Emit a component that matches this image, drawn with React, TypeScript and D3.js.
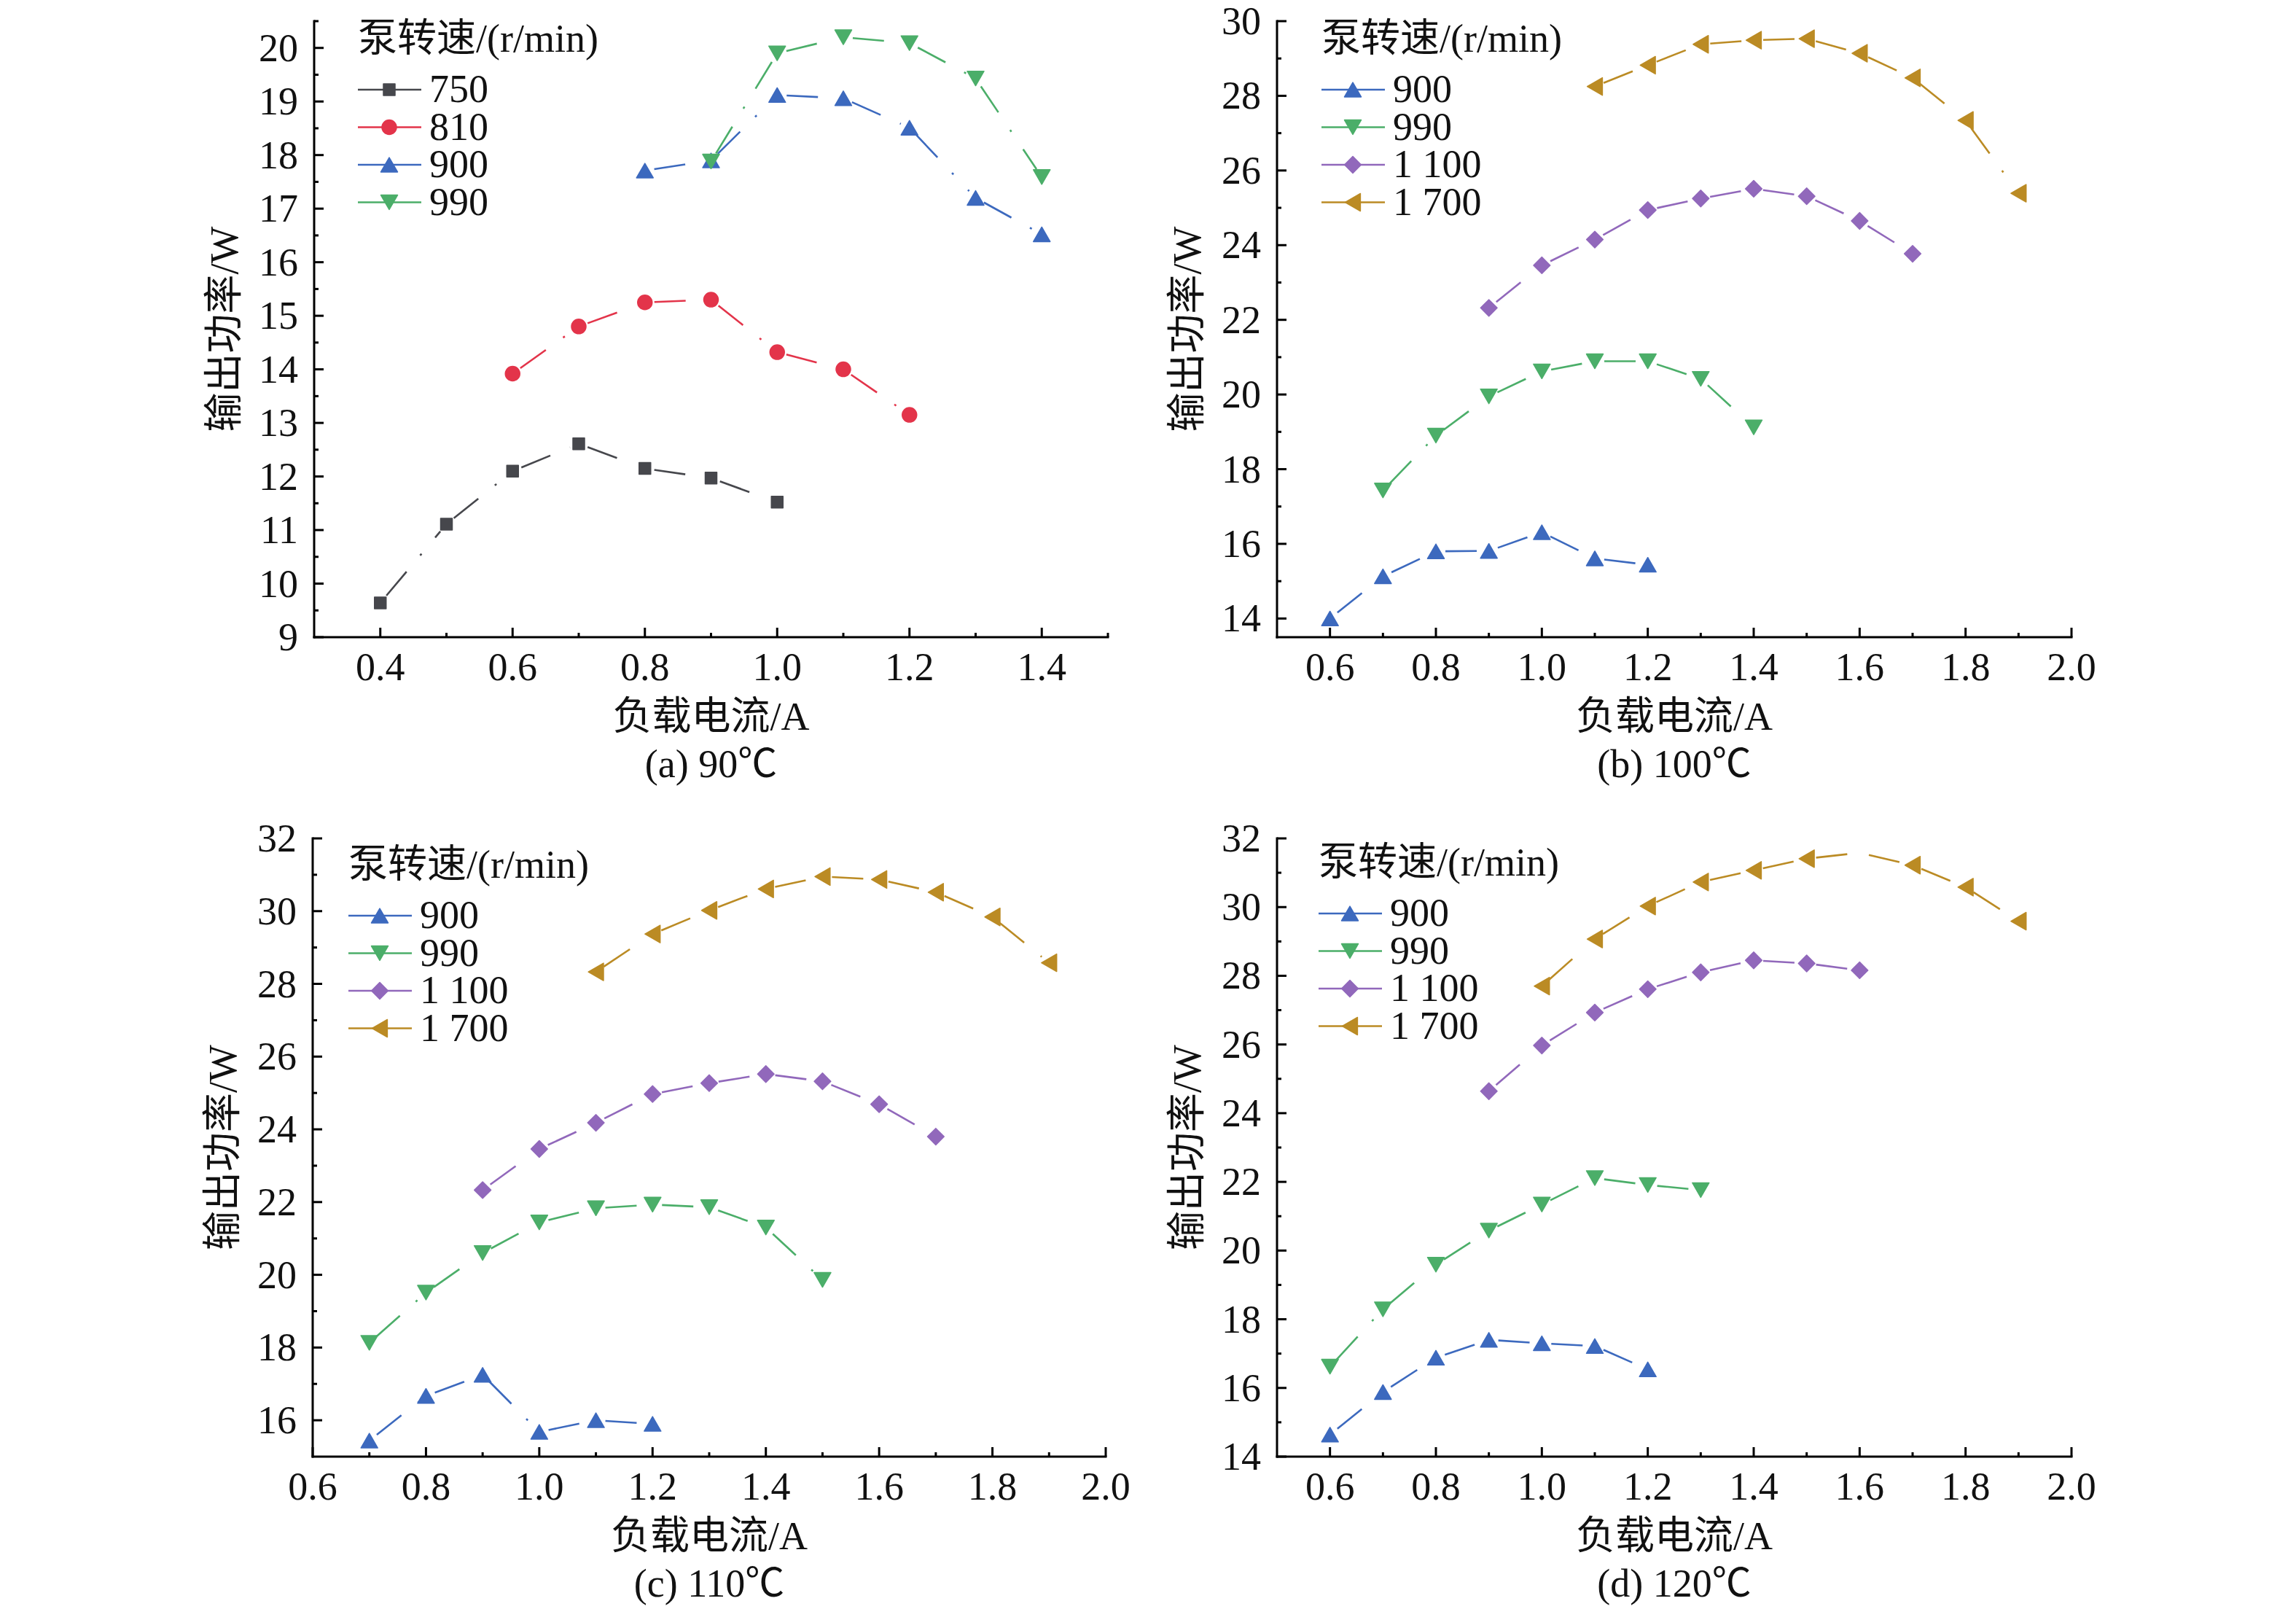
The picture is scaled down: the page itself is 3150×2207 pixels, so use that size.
import React, { useEffect } from "react";
import * as d3 from "d3";

const FONT = '"Liberation Serif", "Times New Roman", "Noto Sans CJK SC", serif';

// colours per pump speed
const C750 = "#46474c";
const C810 = "#e3344a";
const C900 = "#3c69be";
const C990 = "#4bae69";
const C1100 = "#9168bb";
const C1700 = "#bb8b24";

// ---- (a) 90℃ ----
const a750x = [0.4, 0.5, 0.6, 0.7, 0.8, 0.9, 1.0];
const a750y = [9.64, 11.11, 12.1, 12.61, 12.15, 11.97, 11.52];
const a810x = [0.6, 0.7, 0.8, 0.9, 1.0, 1.1, 1.2];
const a810y = [13.92, 14.8, 15.25, 15.3, 14.32, 14.0, 13.15];
const a900x = [0.8, 0.9, 1.0, 1.1, 1.2, 1.3, 1.4];
const a900y = [17.71, 17.9, 19.12, 19.06, 18.51, 17.2, 16.52];
const a990x = [0.9, 1.0, 1.1, 1.2, 1.3, 1.4];
const a990y = [17.88, 19.9, 20.2, 20.09, 19.43, 17.59];

// ---- (b) 100℃ ----
const b900x = [0.6, 0.7, 0.8, 0.9, 1.0, 1.1, 1.2];
const b900y = [14.0, 15.13, 15.8, 15.81, 16.31, 15.61, 15.44];
const b990x = [0.7, 0.8, 0.9, 1.0, 1.1, 1.2, 1.3, 1.4];
const b990y = [17.43, 18.9, 19.95, 20.62, 20.89, 20.89, 20.42, 19.12];
const b1100x = [0.9, 1.0, 1.1, 1.2, 1.3, 1.4, 1.5, 1.6, 1.7];
const b1100y = [22.32, 23.46, 24.15, 24.94, 25.25, 25.51, 25.31, 24.65, 23.77];
const b1700x = [1.1, 1.2, 1.3, 1.4, 1.5, 1.6, 1.7, 1.8, 1.9];
const b1700y = [28.25, 28.82, 29.38, 29.49, 29.53, 29.14, 28.48, 27.34, 25.39];

// ---- (c) 110℃ ----
const c900x = [0.7, 0.8, 0.9, 1.0, 1.1, 1.2];
const c900y = [15.44, 16.67, 17.25, 15.68, 16.0, 15.9];
const c990x = [0.7, 0.8, 0.9, 1.0, 1.1, 1.2, 1.3, 1.4, 1.5];
const c990y = [18.13, 19.51, 20.6, 21.44, 21.83, 21.93, 21.86, 21.3, 19.86];
const c1100x = [0.9, 1.0, 1.1, 1.2, 1.3, 1.4, 1.5, 1.6, 1.7];
const c1100y = [22.33, 23.46, 24.18, 24.97, 25.27, 25.52, 25.32, 24.69, 23.8];
const c1700x = [1.1, 1.2, 1.3, 1.4, 1.5, 1.6, 1.7, 1.8, 1.9];
const c1700y = [28.33, 29.37, 30.02, 30.61, 30.95, 30.87, 30.52, 29.84, 28.58];

// ---- (d) 120℃ ----
const d900x = [0.6, 0.7, 0.8, 0.9, 1.0, 1.1, 1.2];
const d900y = [14.64, 15.88, 16.88, 17.4, 17.3, 17.22, 16.54];
const d990x = [0.6, 0.7, 0.8, 0.9, 1.0, 1.1, 1.2, 1.3];
const d990y = [16.62, 18.29, 19.59, 20.58, 21.34, 22.11, 21.91, 21.76];
const d1100x = [0.9, 1.0, 1.1, 1.2, 1.3, 1.4, 1.5, 1.6];
const d1100y = [24.64, 25.97, 26.93, 27.61, 28.1, 28.45, 28.36, 28.16];
const d1700x = [1.0, 1.1, 1.2, 1.3, 1.4, 1.5, 1.6, 1.7, 1.8, 1.9];
const d1700y = [27.7, 29.07, 30.03, 30.73, 31.07, 31.41, 31.58, 31.22, 30.58, 29.59];

// tick values
const xMajorA = [0.4, 0.6, 0.8, 1.0, 1.2, 1.4];
const xMinorA = [0.5, 0.7, 0.9, 1.1, 1.3, 1.5];
const xMajorB = [0.6, 0.8, 1.0, 1.2, 1.4, 1.6, 1.8, 2.0];
const xMinorB = [0.7, 0.9, 1.1, 1.3, 1.5, 1.7, 1.9];
const yMajorA = [9, 10, 11, 12, 13, 14, 15, 16, 17, 18, 19, 20];
const yMinorA = [9.5, 10.5, 11.5, 12.5, 13.5, 14.5, 15.5, 16.5, 17.5, 18.5, 19.5, 20.5];
const yMajorB = [14, 16, 18, 20, 22, 24, 26, 28, 30];
const yMinorB = [15, 17, 19, 21, 23, 25, 27, 29];
const yMajorC = [16, 18, 20, 22, 24, 26, 28, 30, 32];
const yMinorC = [17, 19, 21, 23, 25, 27, 29, 31];
const yMajorD = [14, 16, 18, 20, 22, 24, 26, 28, 30, 32];
const yMinorD = [15, 17, 19, 21, 23, 25, 27, 29, 31];

const legendTitle = "泵转速/(r/min)";
const xTitle = "负载电流/A";
const yTitle = "输出功率/W";

type Shape = "square" | "circle" | "up" | "down" | "diamond" | "left";

interface Series {
  label: string;
  color: string;
  shape: Shape;
  xs: number[];
  ys: number[];
  hidden?: number[];
}

interface PanelCfg {
  caption: string;
  left: number;
  right: number;
  top: number;
  bottom: number;
  xDomain: [number, number];
  yDomain: [number, number];
  xMajor: number[];
  xMinor: number[];
  yMajor: number[];
  yMinor: number[];
  legendX: number;
  legendY: number;
  series: Series[];
}

const panels: PanelCfg[] = [
  {
    caption: "(a) 90℃", left: 431, right: 1520, top: 29, bottom: 874,
    xDomain: [0.3, 1.5], yDomain: [9, 20.5],
    xMajor: xMajorA, xMinor: xMinorA, yMajor: yMajorA, yMinor: yMinorA,
    legendX: 60, legendY: 42,
    series: [
      { label: "750", color: C750, shape: "square", xs: a750x, ys: a750y },
      { label: "810", color: C810, shape: "circle", xs: a810x, ys: a810y },
      { label: "900", color: C900, shape: "up", xs: a900x, ys: a900y },
      { label: "990", color: C990, shape: "down", xs: a990x, ys: a990y },
    ],
  },
  {
    caption: "(b) 100℃", left: 1752, right: 2842, top: 29, bottom: 874,
    xDomain: [0.5, 2.0], yDomain: [13.5, 30],
    xMajor: xMajorB, xMinor: xMinorB, yMajor: yMajorB, yMinor: yMinorB,
    legendX: 61, legendY: 42,
    series: [
      { label: "900", color: C900, shape: "up", xs: b900x, ys: b900y },
      { label: "990", color: C990, shape: "down", xs: b990x, ys: b990y },
      { label: "1 100", color: C1100, shape: "diamond", xs: b1100x, ys: b1100y },
      { label: "1 700", color: C1700, shape: "left", xs: b1700x, ys: b1700y },
    ],
  },
  {
    caption: "(c) 110℃", left: 429, right: 1517, top: 1150, bottom: 1998,
    xDomain: [0.6, 2.0], yDomain: [15, 32],
    xMajor: xMajorB, xMinor: xMinorB, yMajor: yMajorC, yMinor: yMinorC,
    legendX: 49, legendY: 54,
    series: [
      { label: "900", color: C900, shape: "up", xs: c900x, ys: c900y },
      { label: "990", color: C990, shape: "down", xs: c990x, ys: c990y },
      { label: "1 100", color: C1100, shape: "diamond", xs: c1100x, ys: c1100y },
      { label: "1 700", color: C1700, shape: "left", xs: c1700x, ys: c1700y },
    ],
  },
  {
    caption: "(d) 120℃", left: 1752, right: 2842, top: 1150, bottom: 1998,
    xDomain: [0.5, 2.0], yDomain: [14, 32],
    xMajor: xMajorB, xMinor: xMinorB, yMajor: yMajorD, yMinor: yMinorD,
    legendX: 57, legendY: 51,
    series: [
      { label: "900", color: C900, shape: "up", xs: d900x, ys: d900y },
      { label: "990", color: C990, shape: "down", xs: d990x, ys: d990y },
      { label: "1 100", color: C1100, shape: "diamond", xs: d1100x, ys: d1100y },
      { label: "1 700", color: C1700, shape: "left", xs: d1700x, ys: d1700y, hidden: [6] },
    ],
  },
];

const TRI = 229;
const LTRI = 250;

function markerPath(shape: Shape) {
  if (shape === "square") return d3.symbol().type(d3.symbolSquare).size(256)() || "";
  if (shape === "circle") return d3.symbol().type(d3.symbolCircle).size(314)() || "";
  if (shape === "diamond") return d3.symbol().type(d3.symbolDiamond2).size(330)() || "";
  if (shape === "left") return d3.symbol().type(d3.symbolTriangle).size(LTRI)() || "";
  return d3.symbol().type(d3.symbolTriangle).size(TRI)() || "";
}

// put the triangle's bounding box (not its centroid) on the point
function markerTransform(shape: Shape, cx: number, cy: number) {
  if (shape === "up") {
    const s = Math.sqrt(TRI / (3 * Math.sqrt(3))) / 2;
    return `translate(${cx},${cy + s})`;
  }
  if (shape === "down") {
    const s = Math.sqrt(TRI / (3 * Math.sqrt(3))) / 2;
    return `translate(${cx},${cy - s}) rotate(180)`;
  }
  if (shape === "left") {
    const s = Math.sqrt(LTRI / (3 * Math.sqrt(3))) / 2;
    return `translate(${cx + s},${cy}) rotate(-90)`;
  }
  return `translate(${cx},${cy})`;
}

const GAP = 13;
const DASH = "43 29 3 29";

function Panel({ p }: { p: PanelCfg }) {
  const x = d3.scaleLinear().domain(p.xDomain).range([p.left, p.right]);
  const y = d3.scaleLinear().domain(p.yDomain).range([p.bottom, p.top]);
  const midX = (p.left + p.right) / 2;
  const lx = p.left + p.legendX;
  const ly = p.top + p.legendY;

  return (
    <g>
      {/* series: each segment restarts the dash-dot pattern next to the symbol */}
      {p.series.map((s, si) => (
        <g key={"s" + si}>
          {s.xs.slice(1).map((_, i) => {
            const x0 = x(s.xs[i]), y0 = y(s.ys[i]);
            const x1 = x(s.xs[i + 1]), y1 = y(s.ys[i + 1]);
            const len = Math.hypot(x1 - x0, y1 - y0);
            const ux = (x1 - x0) / len, uy = (y1 - y0) / len;
            return (
              <line key={i} x1={x0 + ux * GAP} y1={y0 + uy * GAP} x2={x1 - ux * GAP} y2={y1 - uy * GAP}
                stroke={s.color} strokeWidth={2.6} strokeDasharray={DASH} />
            );
          })}
          {s.xs.map((v, i) =>
            s.hidden && s.hidden.includes(i) ? null : (
              <path key={"m" + i} d={markerPath(s.shape)} transform={markerTransform(s.shape, x(v), y(s.ys[i]))}
                fill={s.color} stroke={s.color} strokeWidth={1.5} strokeLinejoin="round" />
            )
          )}
        </g>
      ))}

      {/* axes */}
      <line x1={p.left} x2={p.right} y1={p.bottom} y2={p.bottom} stroke="#000" strokeWidth={3} strokeLinecap="square" />
      <line x1={p.left} x2={p.left} y1={p.top} y2={p.bottom} stroke="#000" strokeWidth={3} strokeLinecap="square" />
      {p.xMajor.map((t) => (
        <g key={"xM" + t}>
          <line x1={x(t)} x2={x(t)} y1={p.bottom} y2={p.bottom - 13} stroke="#000" strokeWidth={3} />
          <text x={x(t)} y={p.bottom + 59} textAnchor="middle" fontSize={54} fontFamily={FONT} fill="#111">{t.toFixed(1)}</text>
        </g>
      ))}
      {p.xMinor.map((t) => (
        <line key={"xm" + t} x1={x(t)} x2={x(t)} y1={p.bottom} y2={p.bottom - 6} stroke="#000" strokeWidth={3} />
      ))}
      {p.yMajor.map((t) => (
        <g key={"yM" + t}>
          <line x1={p.left} x2={p.left + 13} y1={y(t)} y2={y(t)} stroke="#000" strokeWidth={3} />
          <text x={p.left - 22} y={y(t) + 18} textAnchor="end" fontSize={54} fontFamily={FONT} fill="#111">{t}</text>
        </g>
      ))}
      {p.yMinor.map((t) => (
        <line key={"ym" + t} x1={p.left} x2={p.left + 6} y1={y(t)} y2={y(t)} stroke="#000" strokeWidth={3} />
      ))}

      {/* titles */}
      <text x={midX} y={p.bottom + 127} textAnchor="middle" fontSize={54} fontFamily={FONT} fill="#111">{xTitle}</text>
      <text x={midX} y={p.bottom + 192} textAnchor="middle" fontSize={54} fontFamily={FONT} fill="#111">{p.caption}</text>
      <text transform={`translate(${p.left - 123},${(p.top + p.bottom) / 2}) rotate(-90)`} textAnchor="middle"
        dominantBaseline="central" fontSize={54} fontFamily={FONT} fill="#111">{yTitle}</text>

      {/* legend */}
      <text x={lx} y={ly} fontSize={54} fontFamily={FONT} fill="#111">{legendTitle}</text>
      {p.series.map((s, i) => {
        const ry = ly + 52 + i * 51.5;
        return (
          <g key={"l" + i}>
            <line x1={lx} x2={lx + 87} y1={ry} y2={ry} stroke={s.color} strokeWidth={2.6} />
            <path d={markerPath(s.shape)} transform={markerTransform(s.shape, lx + 43, ry)}
              fill={s.color} stroke={s.color} strokeWidth={1.5} strokeLinejoin="round" />
            <text x={lx + 98} y={ry + 17} fontSize={54} fontFamily={FONT} fill="#111">{s.label}</text>
          </g>
        );
      })}
    </g>
  );
}

export default function App() {
  useEffect(() => {
    document.body.style.margin = "0";
  }, []);
  return (
    <svg width={3150} height={2207} style={{ display: "block", background: "#fff" }}>
      <rect width={3150} height={2207} fill="#fff" />
      {panels.map((p, i) => (
        <Panel key={i} p={p} />
      ))}
    </svg>
  );
}
